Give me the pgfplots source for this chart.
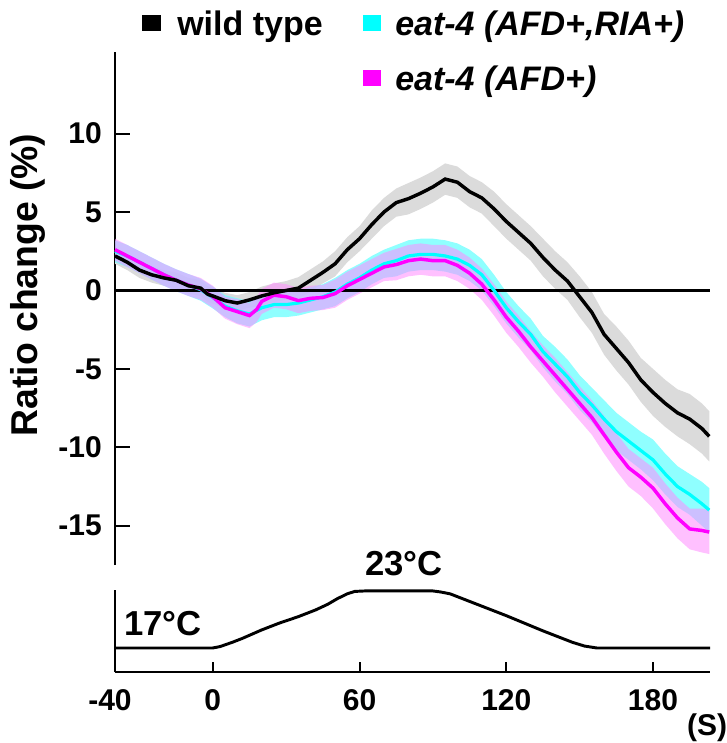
\documentclass[border=0pt]{standalone}
\usepackage{fontspec}
\setmainfont{Liberation Sans}
\usepackage{pgfplots}
\usepackage{pgfplotstable}
\pgfplotsset{compat=1.18}
\usepgfplotslibrary{fillbetween}

\pgfplotstableread{
t m e
-40 2.2 0.5
-35 1.8 0.5
-30 1.3 0.5
-25 1.0 0.5
-20 0.8 0.5
-15 0.65 0.5
-10 0.3 0.5
-5 0.15 0.5
-2 -0.25 0.5
0 -0.35 0.5
5 -0.65 0.5
10 -0.8 0.5
15 -0.6 0.5
20 -0.35 0.6
25 -0.15 0.6
30 0.0 0.6
35 0.15 0.7
40 0.65 0.7
45 1.15 0.7
50 1.7 0.8
55 2.6 0.8
60 3.3 0.8
65 4.2 0.9
70 5.0 0.9
75 5.6 0.9
80 5.85 1.0
85 6.2 1.0
90 6.6 1.0
95 7.1 1.0
100 6.9 1.0
105 6.3 1.0
110 5.9 1.0
115 5.2 1.1
120 4.4 1.1
125 3.7 1.1
130 3.0 1.1
135 2.1 1.2
140 1.3 1.2
145 0.6 1.2
150 -0.4 1.3
155 -1.4 1.3
160 -2.8 1.3
165 -3.7 1.4
170 -4.6 1.4
175 -5.7 1.4
180 -6.5 1.5
185 -7.2 1.5
190 -7.8 1.5
195 -8.2 1.6
200 -8.8 1.6
203 -9.3 1.6
}\wt

\pgfplotstableread{
t m e
-40 2.5 0.7
-35 2.2 0.7
-30 1.8 0.7
-25 1.4 0.7
-20 1.0 0.7
-15 0.65 0.7
-10 0.35 0.7
-5 0.05 0.7
0 -0.45 0.7
5 -1.0 0.7
10 -1.3 0.8
15 -1.5 0.8
20 -1.1 0.8
25 -0.9 0.8
30 -0.9 0.8
35 -0.8 0.8
40 -0.6 0.8
45 -0.4 0.8
50 -0.1 0.9
55 0.4 0.9
60 0.8 0.9
65 1.3 0.9
70 1.7 0.9
75 1.9 1.0
80 2.2 1.0
85 2.3 1.0
90 2.3 1.0
95 2.2 1.0
100 2.0 1.0
105 1.6 1.0
110 1.0 1.0
115 0.0 1.0
120 -1.1 1.0
125 -2.0 1.0
130 -2.8 1.0
135 -3.9 1.0
140 -4.7 1.1
145 -5.5 1.1
150 -6.5 1.1
155 -7.3 1.1
160 -8.2 1.2
165 -9.0 1.2
170 -9.6 1.2
175 -10.2 1.2
180 -10.8 1.3
185 -11.7 1.3
190 -12.5 1.3
195 -13.0 1.3
200 -13.6 1.4
203 -14.0 1.4
}\afdria

\pgfplotstableread{
t m e
-40 2.6 0.7
-35 2.2 0.7
-30 1.8 0.7
-25 1.4 0.7
-20 1.0 0.7
-15 0.65 0.7
-10 0.35 0.7
-5 0.1 0.7
0 -0.4 0.7
5 -1.1 0.7
10 -1.35 0.8
15 -1.6 0.8
18 -1.2 0.8
20 -0.7 0.8
25 -0.3 0.8
30 -0.4 0.8
35 -0.65 0.8
40 -0.5 0.8
45 -0.45 0.8
50 -0.2 0.9
55 0.3 0.9
60 0.7 0.9
65 1.1 0.9
70 1.5 0.9
75 1.65 1.0
80 1.9 1.0
85 2.0 1.0
90 1.9 1.0
95 1.9 1.0
100 1.6 1.0
105 1.1 1.0
110 0.4 1.0
115 -0.6 1.0
120 -1.7 1.0
125 -2.6 1.0
130 -3.6 1.0
135 -4.5 1.0
140 -5.4 1.1
145 -6.3 1.1
150 -7.2 1.1
155 -8.1 1.1
160 -9.2 1.2
165 -10.3 1.2
170 -11.3 1.2
175 -11.9 1.2
180 -12.6 1.3
185 -13.6 1.3
190 -14.5 1.3
195 -15.2 1.3
200 -15.3 1.4
203 -15.4 1.4
}\afd

\pgfplotstableread{
t T
-40 17.0
0 17.0
3 17.15
8 17.6
12 18.0
20 18.9
27 19.6
35 20.3
42 21.0
47 21.6
51 22.2
55 22.7
58 22.95
62 23.0
90 23.0
93 22.9
97 22.7
104 22.0
112 21.2
120 20.4
127.5 19.6
135 18.8
141 18.2
147 17.6
152 17.2
157 17.0
203.3 17.0
}\temp

\definecolor{cyn}{RGB}{0,255,255}
\definecolor{mag}{RGB}{255,0,255}

\begin{document}
\begin{tikzpicture}

\begin{axis}[
  at={(86.25pt,-423.75pt)}, anchor=south west,
  scale only axis, width=446.25pt, height=384.75pt,
  xmin=-40, xmax=203.3, ymin=-17.5, ymax=15.2,
  axis x line=none, axis y line*=left,
  axis line style={line width=1.7pt},
  ytick={-15,-10,-5,0,5,10}, yticklabels={-15,-10,-5,0,5,10},
  ytick align=inside, major tick length=11.25pt,
  tick style={line width=1.5pt, black},
  yticklabel style={font=\fontsize{22.5}{24}\selectfont\bfseries, anchor=east, inner sep=0pt, xshift=-9.75pt},
  clip=false,
]
\addplot[black, line width=1.6pt] coordinates {(-40,0) (203.3,0)};

\addplot[name path=wtU, draw=none] table[x=t, y expr=\thisrow{m}+\thisrow{e}] {\wt};
\addplot[name path=wtL, draw=none] table[x=t, y expr=\thisrow{m}-\thisrow{e}] {\wt};
\addplot[fill=black!14, draw=none] fill between[of=wtU and wtL];

\addplot[name path=cU, draw=none] table[x=t, y expr=\thisrow{m}+\thisrow{e}] {\afdria};
\addplot[name path=cL, draw=none] table[x=t, y expr=\thisrow{m}-\thisrow{e}] {\afdria};
\addplot[fill=cyn!55, draw=none, fill opacity=0.8] fill between[of=cU and cL];

\addplot[name path=mU, draw=none] table[x=t, y expr=\thisrow{m}+\thisrow{e}] {\afd};
\addplot[name path=mL, draw=none] table[x=t, y expr=\thisrow{m}-\thisrow{e}] {\afd};
\addplot[fill=mag!45, draw=none, fill opacity=0.55] fill between[of=mU and mL];

\addplot[cyn, line width=2.4pt] table[x=t, y=m] {\afdria};
\addplot[mag, line width=2.6pt] table[x=t, y=m] {\afd};
\addplot[black, line width=2.6pt] table[x=t, y=m] {\wt};
\end{axis}

\begin{axis}[
  at={(86.25pt,-504pt)}, anchor=south west,
  scale only axis, width=446.25pt, height=61.5pt,
  xmin=-40, xmax=203.3, ymin=14.47, ymax=23.1,
  axis x line*=bottom, axis y line*=left,
  axis line style={line width=1.7pt},
  ytick=\empty,
  xtick={-40,0,60,120,180}, xticklabels={\llap{-}40,0,60,120,180},
  xtick align=inside, major tick length=7.5pt,
  tick style={line width=1.5pt, black},
  xticklabel style={font=\fontsize{22.5}{24}\selectfont\bfseries, anchor=center, inner sep=0pt, yshift=-21pt},
  clip=false,
]
\addplot[black, line width=2.2pt] table[x=t, y=T] {\temp};
\end{axis}

% legend (text keys)
\node[anchor=base west, inner sep=0pt] at (106.5pt,-26.25pt) {\raisebox{3pt}{\textcolor{black}{\rule{13.9pt}{12pt}}}};
\node[anchor=base west, inner sep=0pt, font=\fontsize{25.5}{27}\selectfont\bfseries] at (132.75pt,-26.25pt) {wild type};
\node[anchor=base west, inner sep=0pt] at (272.25pt,-26.25pt) {\raisebox{3pt}{\textcolor{cyn}{\rule{13.5pt}{12pt}}}};
\node[anchor=base west, inner sep=0pt, font=\fontsize{25.5}{27}\selectfont\bfseries\itshape] at (296.25pt,-26.25pt) {eat-4 (AFD+,RIA+)};
\node[anchor=base west, inner sep=0pt] at (272.25pt,-67.5pt) {\raisebox{3pt}{\textcolor{mag}{\rule{13.5pt}{12pt}}}};
\node[anchor=base west, inner sep=0pt, font=\fontsize{25.5}{27}\selectfont\bfseries\itshape] at (296.25pt,-67.5pt) {eat-4 (AFD+)};

\node[font=\fontsize{26}{28}\selectfont\bfseries] at (122.25pt,-468pt) {17°C};
\node[font=\fontsize{26}{28}\selectfont\bfseries] at (303pt,-423pt) {23°C};
\node[font=\fontsize{22.5}{24}\selectfont\bfseries] at (530.25pt,-546pt) {(S)};
\node[font=\fontsize{28}{30}\selectfont\bfseries, rotate=90] at (20.6pt,-213.75pt) {Ratio change (\%)};

\pgfresetboundingbox
\path[use as bounding box] (0,0) rectangle (545.25pt,-557.25pt);
\end{tikzpicture}
\end{document}
